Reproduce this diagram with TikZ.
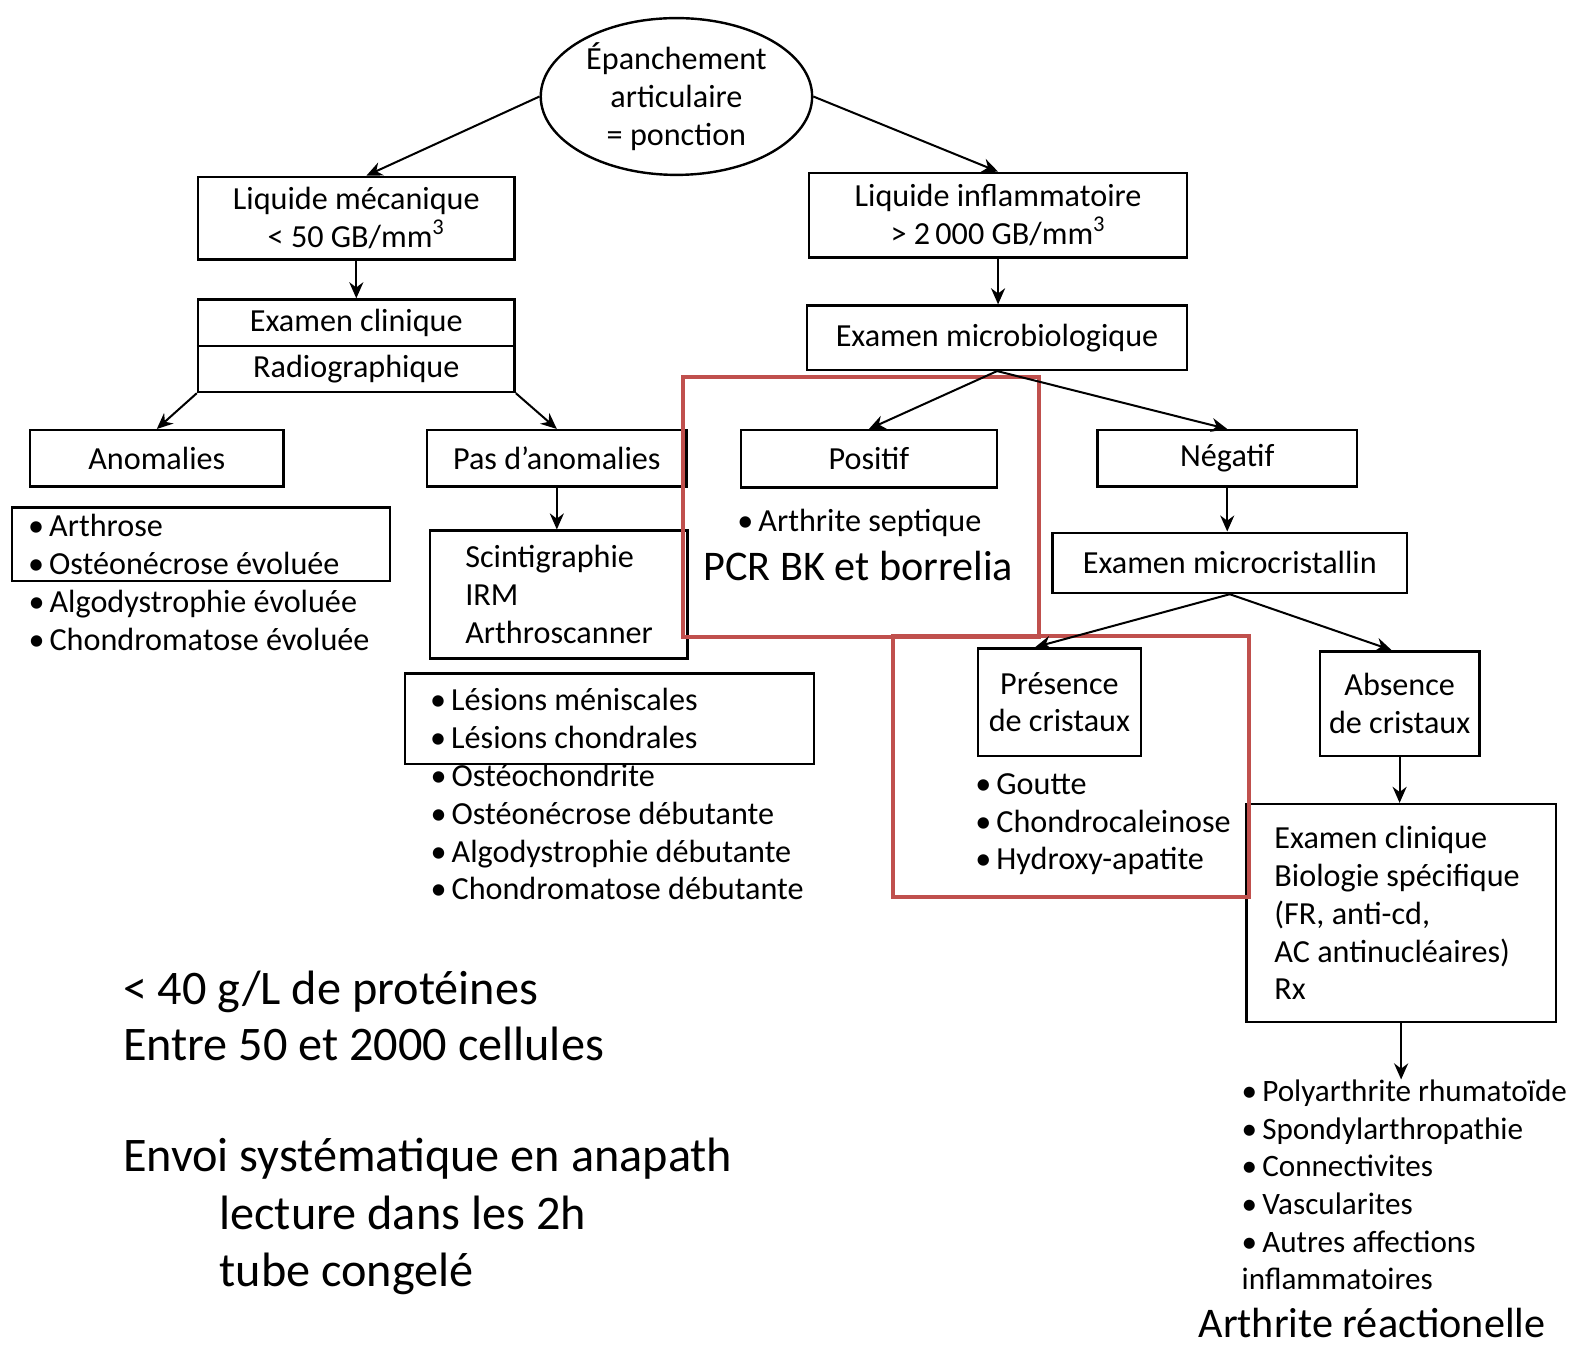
\documentclass[tikz,border=0pt]{standalone}
\usepackage{fontspec}
\setmainfont{Carlito}
\usetikzlibrary{shapes.geometric,arrows.meta}
\definecolor{rougecadre}{HTML}{C0504D}
\newcommand{\petit}{\fontsize{16}{18.75}\selectfont}
\newcommand{\moyen}{\fontsize{21}{25}\selectfont}
\newcommand{\grand}{\fontsize{24}{28}\selectfont}
\newcommand{\puce}{\textbullet\hspace{2.5pt}}

\begin{document}
\begin{tikzpicture}[x=0.5pt,y=-0.5pt,>={Stealth[length=8pt,width=7pt]},
    boite/.style={draw,line width=1.2pt,inner sep=0pt,font=\petit,align=center},
    liste/.style={font=\petit,align=flush left,inner sep=0pt,anchor=west},
    note/.style={font=\grand,align=flush left,inner sep=0pt,anchor=west},
    fleche/.style={->,line width=1pt},
    cadre/.style={draw=rougecadre,line width=2pt}]
    \fill[white] (0,0) rectangle (1568,1338);
    \useasboundingbox (0,0) rectangle (1568,1338);

    % colonne de gauche
    \node[ellipse,draw,line width=1.2pt,minimum width=135pt,minimum height=78pt,inner sep=0pt,font=\petit,align=center] (epanch) at (673,96) {Épanchement\\articulaire\\= ponction};
    \node[boite,minimum width=157.5pt,minimum height=41pt] (lmeca) at (354.5,217) {Liquide mécanique\\< 50 GB/mm\textsuperscript{3}};
    \node[boite,minimum width=157.5pt,minimum height=46pt] (excli) at (354.5,344) {Examen clinique\\[4pt]Radiographique};
    \draw[line width=1.2pt] (excli.west) -- (excli.east);
    \node[boite,minimum width=126pt,minimum height=28pt] (anom) at (156,456) {Anomalies};
    \node[boite,minimum width=129pt,minimum height=28pt] (pasanom) at (554,456) {Pas d’anomalies};
    \node[boite,minimum height=36.5pt,text width=172pt,inner xsep=8pt,align=flush left] (arthrose) at (200,541.5) {\puce Arthrose\\\puce Ostéonécrose évoluée};
    \node[liste] (evoluee) at (28,617.5) {\puce Algodystrophie évoluée\\\puce Chondromatose évoluée};
    \node[boite,minimum height=63.5pt,text width=93pt,inner xsep=17.5pt,align=flush left] (imagerie) at (556,591.5) {Scintigraphie\\IRM\\Arthroscanner};
    \node[boite,minimum height=45pt,text width=178.5pt,inner xsep=12.5pt,align=flush left] (lesions) at (606.5,715) {\puce Lésions méniscales\\\puce Lésions chondrales};
    \node[liste] (debutante) at (428,828) {\puce Ostéochondrite\\\puce Ostéonécrose débutante\\\puce Algodystrophie débutante\\\puce Chondromatose débutante};

    % colonne de droite
    \node[boite,minimum width=188pt,minimum height=42pt] (linfl) at (993,214) {Liquide inflammatoire\\> 2\,000 GB/mm\textsuperscript{3}};
    \node[boite,minimum width=189pt,minimum height=32pt] (exmicro) at (992,336) {Examen microbiologique};
    \node[boite,minimum width=127.5pt,minimum height=28.5pt] (positif) at (864.5,456.5) {Positif};
    \node[boite,minimum width=129pt,minimum height=28pt] (negatif) at (1221,456) {Négatif};
    \node[font=\petit,inner sep=0pt] (septique) at (855,520) {\puce Arthrite septique};
    \node[font=\moyen,inner sep=0pt] (pcr) at (854,563) {PCR BK et borrelia};
    \node[boite,minimum width=176.5pt,minimum height=30pt] (microcrist) at (1223.5,560) {Examen microcristallin};
    \node[boite,minimum width=81pt,minimum height=53.5pt] (presence) at (1054,698.5) {Présence\\de cristaux};
    \node[boite,minimum width=79.5pt,minimum height=52pt] (absence) at (1392.5,700) {Absence\\de cristaux};
    \node[liste] (cristaux) at (970,820) {\puce Goutte\\\puce Chondrocaleinose\\\puce Hydroxy-apatite};
    \node[boite,minimum height=108.5pt,text width=126pt,inner xsep=14pt,align=flush left] (bilan) at (1394,908.5) {Examen clinique\\Biologie spécifique\\(FR, anti-cd,\\AC antinucléaires)\\Rx};
    \node[liste,font=\fontsize{15.5}{18.75}\selectfont] (maladies) at (1235,1179) {\puce Polyarthrite rhumatoïde\\\puce Spondylarthropathie\\\puce Connectivites\\\puce Vascularites\\\puce Autres affections\\inflammatoires};
    \node[font=\moyen,inner sep=0pt] (reactionelle) at (1365,1316) {Arthrite réactionelle};

    % notes
    \node[note] (proteines) at (122,1010.5) {< 40 g/L de protéines\\Entre 50 et 2000 cellules};
    \node[note] (anapath) at (122,1153) {Envoi systématique en anapath};
    \node[note] (tube) at (218,1239) {lecture dans les 2h\\tube congelé};

    % cadres rouges
    \draw[cadre] (680,375) rectangle (1034,634);
    \draw[cadre] (888,633) rectangle (1243,892);

    % fleches
    \draw[fleche] (epanch.west) -- ([xshift=5pt]lmeca.north);
    \draw[fleche] (epanch.east) -- (linfl.north);
    \draw[fleche] (lmeca.south) -- (excli.north);
    \draw[fleche] (linfl.south) -- (linfl.south |- exmicro.north);
    \draw[fleche] (excli.south west) -- (anom.north);
    \draw[fleche] (excli.south east) -- (pasanom.north);
    \draw[fleche] (pasanom.south) -- (pasanom.south |- imagerie.north);
    \draw[fleche] (exmicro.south) -- (positif.north);
    \draw[fleche] (exmicro.south) -- (negatif.north);
    \draw[fleche] (negatif.south) -- (negatif.south |- microcrist.north);
    \draw[fleche] (microcrist.south) -- ([xshift=-12pt]presence.north);
    \draw[fleche] (microcrist.south) -- ([xshift=-4pt]absence.north);
    \draw[fleche] (absence.south) -- (absence.south |- bilan.north);
    \draw[fleche] (bilan.south) -- (bilan.south |- maladies.north);
\end{tikzpicture}
\end{document}
